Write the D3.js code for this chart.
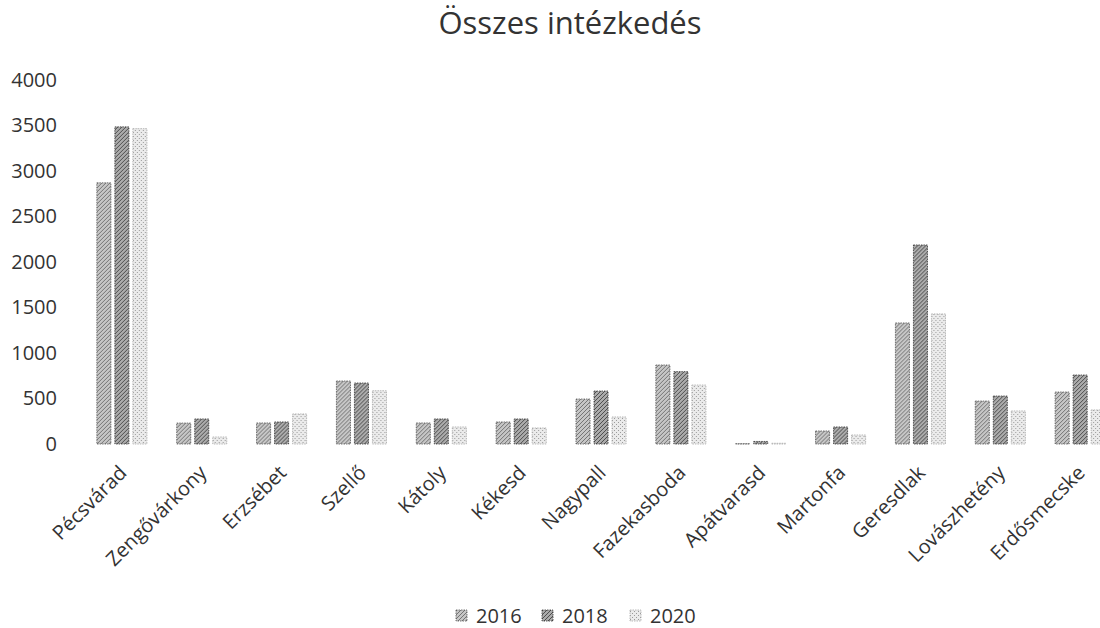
<!DOCTYPE html>
<html>
<head>
<meta charset="utf-8">
<script src="https://cdn.jsdelivr.net/npm/d3@7"></script>
<style>
  body { margin: 0; background: #fff; }
  svg { font-family: "Open Sans", "Noto Sans", sans-serif; }
</style>
</head>
<body>
<svg width="1100" height="628"></svg>
<script>
const towns = ['Pécsvárad', 'Zengővárkony', 'Erzsébet', 'Szellő', 'Kátoly', 'Kékesd', 'Nagypall',
  'Fazekasboda', 'Apátvarasd', 'Martonfa', 'Geresdlak', 'Lovászhetény', 'Erdősmecske'];
const years = ['2016', '2018', '2020'];
const v2016 = [2870, 230, 231, 692, 231, 242, 494, 868, 3, 143, 1330, 472, 571];
const v2018 = [3485, 275, 242, 670, 275, 275, 582, 795, 28, 187, 2187, 527, 758];
const v2020 = [3465, 77, 330, 585, 187, 176, 297, 648, 8, 99, 1429, 363, 374];
const yTicks = [0, 500, 1000, 1500, 2000, 2500, 3000, 3500, 4000];

const svg = d3.select('svg');
const margin = { left: 82, top: 80, bottom: 184 };
const plotW = 13 * 79.85;
const height = 628 - margin.top - margin.bottom;

// dithered grey fills
const defs = svg.append('defs');
function hatch(id, bg, ink, dots) {
  const p = defs.append('pattern').attr('id', id)
    .attr('width', 4).attr('height', 4).attr('patternUnits', 'userSpaceOnUse');
  p.append('rect').attr('width', 4).attr('height', 4).attr('fill', bg);
  if (dots) {
    p.append('rect').attr('x', 0).attr('y', 0).attr('width', 1).attr('height', 1).attr('fill', ink);
    p.append('rect').attr('x', 2).attr('y', 2).attr('width', 1).attr('height', 1).attr('fill', ink);
  } else {
    p.append('path').attr('d', 'M0,4 L4,0 M-1,1 L1,-1 M3,5 L5,3')
      .attr('stroke', ink).attr('stroke-width', 1);
  }
}
hatch('p2016', '#c6c6c6', '#747474', false);
hatch('p2018', '#ababab', '#4e4e4e', false);
hatch('p2020', '#ebebeb', '#9a9a9a', true);
const fills = { '2016': 'url(#p2016)', '2018': 'url(#p2018)', '2020': 'url(#p2020)' };
const strokes = { '2016': '#555', '2018': '#333', '2020': '#aaa' };

const x = d3.scaleBand().domain(towns).range([0, plotW]).paddingInner(0.373).paddingOuter(0.186);
const xs = d3.scaleBand().domain(years).range([0, x.bandwidth()]).paddingInner(0.22);
const y = d3.scaleLinear().domain([0, 4000]).range([height, 0]);

const g = svg.append('g').attr('transform', `translate(${margin.left},${margin.top})`);

// title
svg.append('text').attr('x', 570).attr('y', 34).attr('text-anchor', 'middle')
  .attr('font-size', 31).attr('fill', '#333').text('Összes intézkedés');

// y axis
const yAxis = g.append('g').call(d3.axisLeft(y).tickValues(yTicks).tickFormat(d3.format('d'))
  .tickSize(0).tickPadding(25));
yAxis.select('.domain').remove();
yAxis.selectAll('text').attr('font-size', 20).attr('fill', '#333')
  .attr('font-family', '"Open Sans", sans-serif');

// bars
const rows = towns.map((t, i) => ({ town: t, vals: [v2016[i], v2018[i], v2020[i]] }));
const grp = g.selectAll('.grp').data(rows).join('g')
  .attr('transform', d => `translate(${x(d.town)},0)`);
grp.selectAll('rect').data(d => years.map((yr, k) => ({ yr, v: d.vals[k] }))).join('rect')
  .attr('x', d => xs(d.yr))
  .attr('y', d => y(d.v))
  .attr('width', xs.bandwidth())
  .attr('height', d => height - y(d.v))
  .attr('fill', d => fills[d.yr])
  .attr('stroke', d => strokes[d.yr])
  .attr('stroke-width', 0.8)
  .attr('stroke-dasharray', '1.5,1');

// x axis
const xAxis = g.append('g').attr('transform', `translate(0,${height})`)
  .call(d3.axisBottom(x).tickSize(0).tickPadding(0));
xAxis.select('.domain').remove();
xAxis.selectAll('text')
  .attr('font-size', 20).attr('fill', '#333')
  .attr('font-family', '"Open Sans", sans-serif')
  .attr('text-anchor', 'end')
  .attr('dy', 0)
  .attr('transform', 'translate(6,30) rotate(-45)');

// legend
const legend = svg.append('g').attr('transform', 'translate(456,623)');
const lx = [0, 86, 174];
years.forEach((yr, k) => {
  const it = legend.append('g').attr('transform', `translate(${lx[k]},0)`);
  it.append('rect').attr('x', 0).attr('y', -13).attr('width', 11).attr('height', 11)
    .attr('fill', fills[yr]).attr('stroke', strokes[yr]).attr('stroke-width', 0.8)
    .attr('stroke-dasharray', '1.5,1');
  it.append('text').attr('x', 20).attr('y', 0).attr('font-size', 20).attr('fill', '#333').text(yr);
});
</script>
</body>
</html>
